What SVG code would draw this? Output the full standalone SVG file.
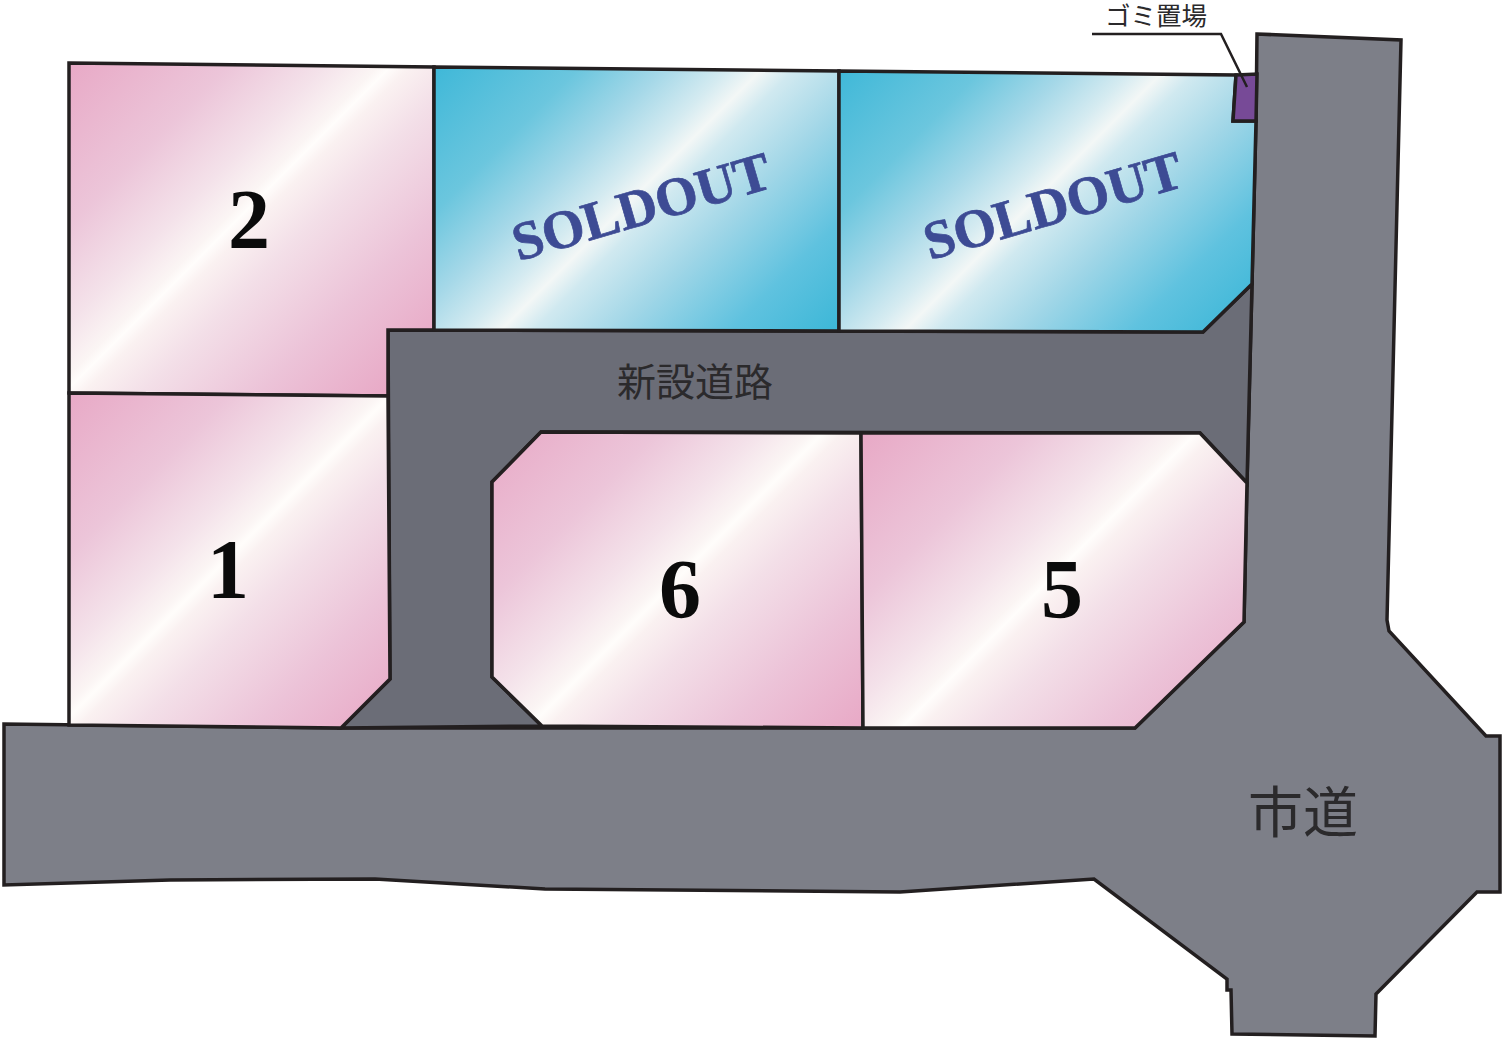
<svg xmlns="http://www.w3.org/2000/svg" xmlns:xlink="http://www.w3.org/1999/xlink" width="1506" height="1048" viewBox="0 0 1506 1048">
<style>
.e{stroke:#231f20;stroke-width:3.5;stroke-linejoin:miter}
.n{font-family:"Liberation Serif",serif;font-weight:700;font-size:84px;fill:#0b0b0b;text-anchor:middle}
.s{font-family:"Liberation Serif",serif;font-weight:700;font-size:54.5px;fill:#3d4b94;stroke:#3d4b94;stroke-width:.7;text-anchor:middle}
.j{font-family:"Liberation Sans","Noto Sans CJK JP",sans-serif;fill:#2b2a2c}
</style>
<defs>
<linearGradient id="p"><stop offset="0" stop-color="#e8a9c6"/><stop offset=".25" stop-color="#ecc5d9"/><stop offset=".4" stop-color="#f4e2ea"/><stop offset=".48" stop-color="#fbf5f4"/><stop offset=".5" stop-color="#fffdfb"/><stop offset=".53" stop-color="#faf1f1"/><stop offset=".62" stop-color="#f3dfe8"/><stop offset=".8" stop-color="#ecc3d8"/><stop offset="1" stop-color="#e8a9c6"/></linearGradient>
<linearGradient id="b"><stop offset="0" stop-color="#3fb8d8"/><stop offset=".22" stop-color="#6bc6de"/><stop offset=".35" stop-color="#a5d8e8"/><stop offset=".45" stop-color="#d5ebf1"/><stop offset=".5" stop-color="#f3f7f6"/><stop offset=".55" stop-color="#d0e9f0"/><stop offset=".68" stop-color="#a0d6e7"/><stop offset=".85" stop-color="#5fc2df"/><stop offset="1" stop-color="#3fb8d8"/></linearGradient>
<linearGradient id="g2" xlink:href="#p" gradientUnits="userSpaceOnUse" x1="69" y1="63" x2="394" y2="388"/>
<linearGradient id="g1" xlink:href="#p" gradientUnits="userSpaceOnUse" x1="69" y1="393" x2="393" y2="717"/>
<linearGradient id="g6" xlink:href="#p" gradientUnits="userSpaceOnUse" x1="492" y1="432" x2="824" y2="764"/>
<linearGradient id="g5" xlink:href="#p" gradientUnits="userSpaceOnUse" x1="862" y1="433" x2="1196" y2="767"/>
<linearGradient id="g3" xlink:href="#b" gradientUnits="userSpaceOnUse" x1="434" y1="68" x2="763" y2="397"/>
<linearGradient id="g4" xlink:href="#b" gradientUnits="userSpaceOnUse" x1="839" y1="70" x2="1165" y2="396"/>
</defs>
<rect width="1506" height="1048" fill="#fff"/>
<g id="road-city">
<polygon class="e" fill="#7d7f88" points="1257,34 1401,40 1387,620 1389,631 1486,736 1500,736 1500,892 1477,892 1376,994 1375,1036 1232,1034 1231,990 1227,990 1227,979 1094,879 900,892 545,889 375,879 170,880 4,885 4,724 340,728 1135,728 1244,622 1247,483 1252,284 1256,121"/>
<text class="j" x="1248" y="832" font-size="55">市道</text>
</g>
<g id="road-new">
<polygon class="e" fill="#6b6d77" points="388,330 1203,332 1252,284 1247,483 1200,433 541,432 492,482 492,677 542,726 341,728 390,679"/>
<text class="j" x="617" y="396" font-size="39">新設道路</text>
</g>
<g id="lot-2">
<polygon class="e" fill="url(#g2)" points="69,63 434,67 434,330 388,330 388,396 69,393"/>
<text class="n" x="249" y="248">2</text>
</g>
<g id="lot-1">
<polygon class="e" fill="url(#g1)" points="69,393 388,396 390,679 341,728 69,725"/>
<text class="n" x="228" y="598">1</text>
</g>
<g id="lot-3">
<polygon class="e" fill="url(#g3)" points="434,67 839,71 839,331 434,330"/>
<text class="s" transform="translate(646.5 224) rotate(-16.2)">SOLDOUT</text>
</g>
<g id="lot-4">
<polygon class="e" fill="url(#g4)" points="839,71 1236,75 1233,121 1256,121 1252,284 1203,332 839,331"/>
<text class="s" transform="translate(1058 223) rotate(-16.2)">SOLDOUT</text>
</g>
<g id="lot-6">
<polygon class="e" fill="url(#g6)" points="541,432 861,433 863,728 542,726 492,677 492,482"/>
<text class="n" x="680" y="618">6</text>
</g>
<g id="lot-5">
<polygon class="e" fill="url(#g5)" points="861,433 1200,433 1247,483 1244,622 1135,728 863,728"/>
<text class="n" x="1062" y="618">5</text>
</g>
<g id="garbage">
<polygon class="e" fill="#774a97" points="1236,75 1257,74 1256,121 1233,121"/>
<text class="j" x="1105" y="24.5" font-size="25.5">ゴミ置場</text>
</g>
<g id="connectors">
<polyline points="1092,34 1221,34 1247,87" fill="none" stroke="#231f20" stroke-width="2.5"/>
</g>
</svg>
